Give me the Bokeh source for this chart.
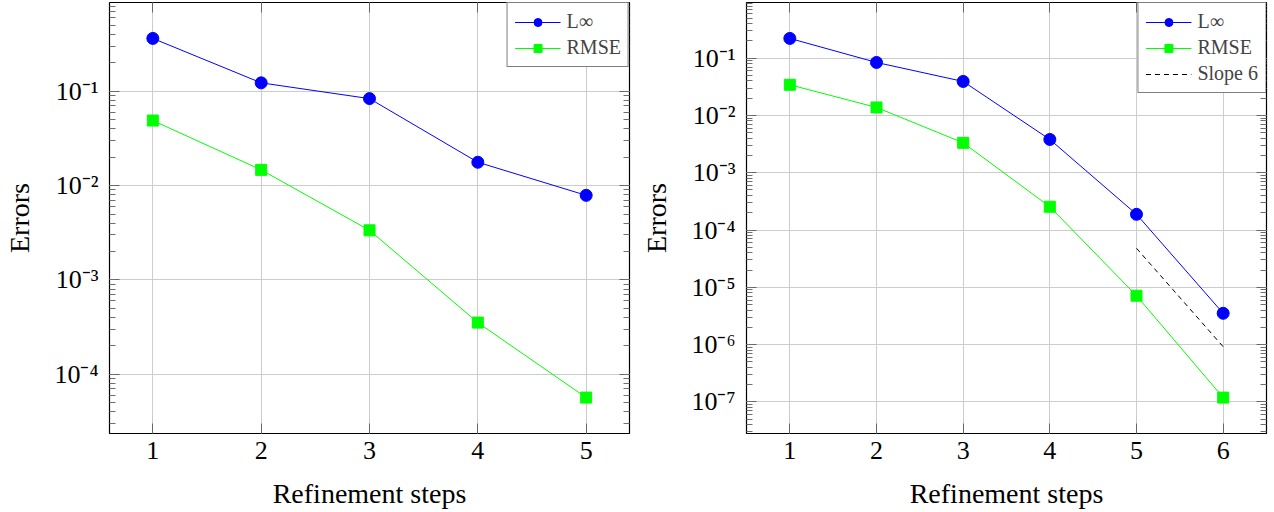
import math
from bokeh.plotting import figure
from bokeh.layouts import row
from bokeh.models import (FixedTicker, LogAxis, LinearAxis, CustomJSTickFormatter,
                          Range1d, Legend)
from bokeh.embed import file_html
from bokeh.resources import INLINE

# ---------------- data ----------------
steps_left = [1, 2, 3, 4, 5]
linf_left = [0.364, 0.123, 0.0837, 0.0177, 0.00789]
rmse_left = [0.049, 0.0147, 0.00336, 3.53e-4, 5.66e-5]

steps_right = [1, 2, 3, 4, 5, 6]
linf_right = [0.221, 0.0841, 0.0392, 0.00381, 1.88e-4, 3.52e-6]
rmse_right = [0.0343, 0.0138, 0.00333, 2.55e-4, 7.14e-6, 1.19e-7]

slope_x = [5, 6]
slope_y = [4.8e-5, 9.2e-7]

left_decades = [-4, -3, -2, -1]
right_decades = [-7, -6, -5, -4, -3, -2, -1]

x_label = "Refinement steps"
y_label = "Errors"
label_linf = "L∞"
label_rmse = "RMSE"
label_slope = "Slope 6"

FONT = "Liberation Serif"
BLUE = "#0000ff"
GREEN = "#00ff00"

SUP = "const sup = {'-':'⁻','0':'⁰','1':'¹','2':'²','3':'³','4':'⁴','5':'⁵','6':'⁶','7':'⁷','8':'⁸','9':'⁹'};"
fmt_code = SUP + """
const e = Math.round(Math.log10(tick));
return '10' + String(e).split('').map(c => sup[c]).join('');
"""


def log_ticker(decades):
    major = [10.0 ** d for d in decades]
    lo, hi = decades[0] - 1, decades[-1] + 1
    minor = [k * 10.0 ** d for d in range(lo, hi) for k in range(1, 10)]
    return FixedTicker(ticks=major, minor_ticks=minor)


def style_ticks(ax):
    ax.axis_line_color = None
    ax.major_tick_in = 10
    ax.major_tick_out = 0
    ax.minor_tick_in = 6
    ax.minor_tick_out = 0
    ax.major_tick_line_color = "#666666"
    ax.minor_tick_line_color = "#6f6f6f"


def make_plot(xs, series, decades, slope=None):
    allv = [v for s in series for v in s]
    lmin, lmax = math.log10(min(allv)), math.log10(max(allv))
    ey = 0.1 * (lmax - lmin)
    ex = 0.1 * (max(xs) - min(xs))
    p = figure(width=637, height=512, y_axis_type="log",
               x_range=Range1d(min(xs) - ex, max(xs) + ex),
               y_range=Range1d(10 ** (lmin - ey), 10 ** (lmax + ey)),
               output_backend="svg", toolbar_location=None,
               min_border_left=109, min_border_right=8,
               min_border_top=2, min_border_bottom=79)
    p.outline_line_color = "black"
    p.outline_line_width = 1.2
    p.background_fill_color = "white"
    p.border_fill_color = "white"

    yt = log_ticker(decades)
    xt = FixedTicker(ticks=xs)
    fmt = CustomJSTickFormatter(code=fmt_code)
    empty = CustomJSTickFormatter(code="return '';")

    ya = p.yaxis[0]
    ya.ticker = yt
    ya.formatter = fmt
    ya.axis_label = y_label
    xa = p.xaxis[0]
    xa.ticker = xt
    xa.axis_label = x_label

    for ax in (ya, xa):
        style_ticks(ax)
        ax.major_label_text_font = FONT
        ax.major_label_text_font_size = "26px"
        ax.major_label_text_color = "black"
        ax.axis_label_text_font = FONT
        ax.axis_label_text_font_size = "28px"
        ax.axis_label_text_font_style = "normal"
        ax.axis_label_text_color = "black"
    xa.minor_tick_line_color = None
    ya.major_label_standoff = 11
    ya.axis_label_standoff = 16
    xa.major_label_standoff = 8
    xa.axis_label_standoff = 16

    # mirrored axes (ticks only)
    ry = LogAxis(ticker=yt, formatter=empty)
    tx = LinearAxis(ticker=xt, formatter=empty)
    for ax in (ry, tx):
        style_ticks(ax)
        ax.major_label_standoff = 0
        ax.major_label_text_font_size = "0px"
    tx.minor_tick_line_color = None
    p.add_layout(ry, "right")
    p.add_layout(tx, "above")

    p.xgrid.ticker = xt
    p.ygrid.ticker = yt
    p.grid.grid_line_color = "#cccccc"
    p.grid.grid_line_width = 1

    linf, rmse = series
    r1 = p.line(xs, linf, line_color=BLUE, line_width=1)
    r2 = p.scatter(xs, linf, marker="circle", size=12, fill_color=BLUE, line_color=BLUE)
    r3 = p.line(xs, rmse, line_color=GREEN, line_width=1)
    r4 = p.scatter(xs, rmse, marker="square", size=11, fill_color=GREEN, line_color=GREEN)
    items = [(label_linf, [r1, r2]), (label_rmse, [r3, r4])]
    if slope is not None:
        r5 = p.line(slope[0], slope[1], line_color="black", line_dash="5 4", line_width=1)
        items.append((label_slope, [r5]))

    lg = Legend(items=items, location="top_right")
    lg.margin = 0
    lg.padding = 7
    lg.spacing = 3
    lg.glyph_width = 46
    lg.glyph_height = 20
    lg.label_height = 20
    lg.label_standoff = 6
    lg.label_text_font = FONT
    lg.label_text_font_size = "20px"
    lg.border_line_color = "black"
    lg.border_line_width = 1.2
    lg.background_fill_color = "white"
    lg.background_fill_alpha = 1
    p.add_layout(lg, "center")
    return p


p1 = make_plot(steps_left, [linf_left, rmse_left], left_decades)
p2 = make_plot(steps_right, [linf_right, rmse_right], right_decades, slope=(slope_x, slope_y))
layout = row(p1, p2)
open("out.html", "w").write(file_html(layout, INLINE))
